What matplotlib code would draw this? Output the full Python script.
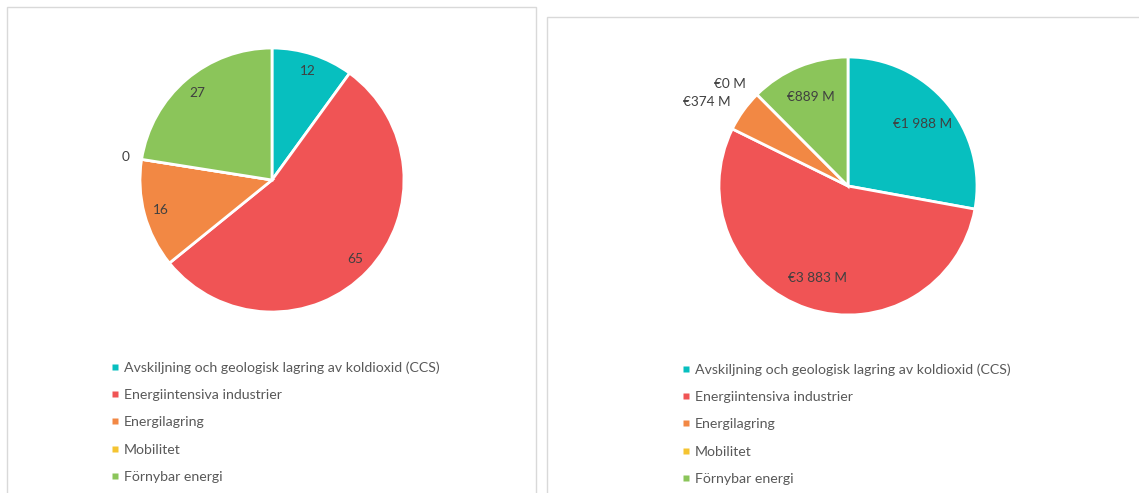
import numpy as np
import matplotlib.pyplot as plt
from matplotlib.patches import Rectangle
from matplotlib.lines import Line2D

# Data
categories = ['Avskiljning och geologisk lagring av koldioxid (CCS)',
              'Energiintensiva industrier',
              'Energilagring',
              'Mobilitet',
              'Förnybar energi']
projects = [12, 65, 16, 0, 27]
funding = [1988, 3883, 374, 0, 889]  # M EUR
funding_labels = ['€1 988 M', '€3 883 M', '€374 M', '€0 M', '€889 M']
colors = ['#07BFBF', '#F05455', '#F28844', '#F5C431', '#8BC55A']

plt.rcParams['font.family'] = ['Lato', 'DejaVu Sans']

W, H = 1139, 493
fig = plt.figure(figsize=(W / 100, H / 100), dpi=100)


def px_axes(cx, cy, r):
    # square axes centred on a pixel position, limits +-1.1
    s = 2.2 * r
    return fig.add_axes([(cx - s / 2) / W, 1 - (cy + s / 2) / H, s / W, s / H])


# panel borders
fig.patches.append(Rectangle((7 / W, -0.05), 529 / W, 1.05 - 7 / H,
                             transform=fig.transFigure, fill=False,
                             edgecolor='#D9D9D9', lw=1))
fig.patches.append(Rectangle((547 / W, -0.05), 0.6, 1.05 - 17 / H,
                             transform=fig.transFigure, fill=False,
                             edgecolor='#D9D9D9', lw=1))


def draw_pie(ax, values, labels, inside, outside):
    wedges, _ = ax.pie(values, colors=colors, startangle=90, counterclock=False,
                       radius=1, wedgeprops=dict(edgecolor='white', linewidth=2))
    total = sum(values)
    for w, lab, v in zip(wedges, labels, values):
        mid = np.deg2rad((w.theta1 + w.theta2) / 2)
        if v / total > 0.08:
            d = inside
            ha = 'center'
        else:
            d = outside
            ha = 'right' if np.cos(mid) < 0 else 'left'
        ax.text(d * np.cos(mid), d * np.sin(mid), lab, ha=ha, va='center',
                fontsize=9.8, color='#404040')
    ax.set_xlim(-1.1, 1.1)
    ax.set_ylim(-1.1, 1.1)
    ax.set_aspect('equal')
    ax.axis('off')
    return wedges


ax1 = px_axes(272, 180, 132)
draw_pie(ax1, projects, [str(v) for v in projects], 0.87, 1.09)

ax2 = px_axes(848, 186, 129)
draw_pie(ax2, funding, funding_labels, 0.75, 1.12)

handles = [Line2D([], [], ls='none', marker='s', markersize=5,
                  markerfacecolor=c, markeredgecolor='none') for c in colors]


def add_legend(x, y):
    fig.legend(handles, categories, loc='upper left',
               bbox_to_anchor=(x / W, 1 - y / H), frameon=False,
               fontsize=10.2, labelcolor='#595959', handlelength=0.6,
               handletextpad=0.3, labelspacing=1.09,
               borderaxespad=0, borderpad=0)


add_legend(111, 361)
add_legend(682, 363)

fig.savefig('out.png', dpi=100)
